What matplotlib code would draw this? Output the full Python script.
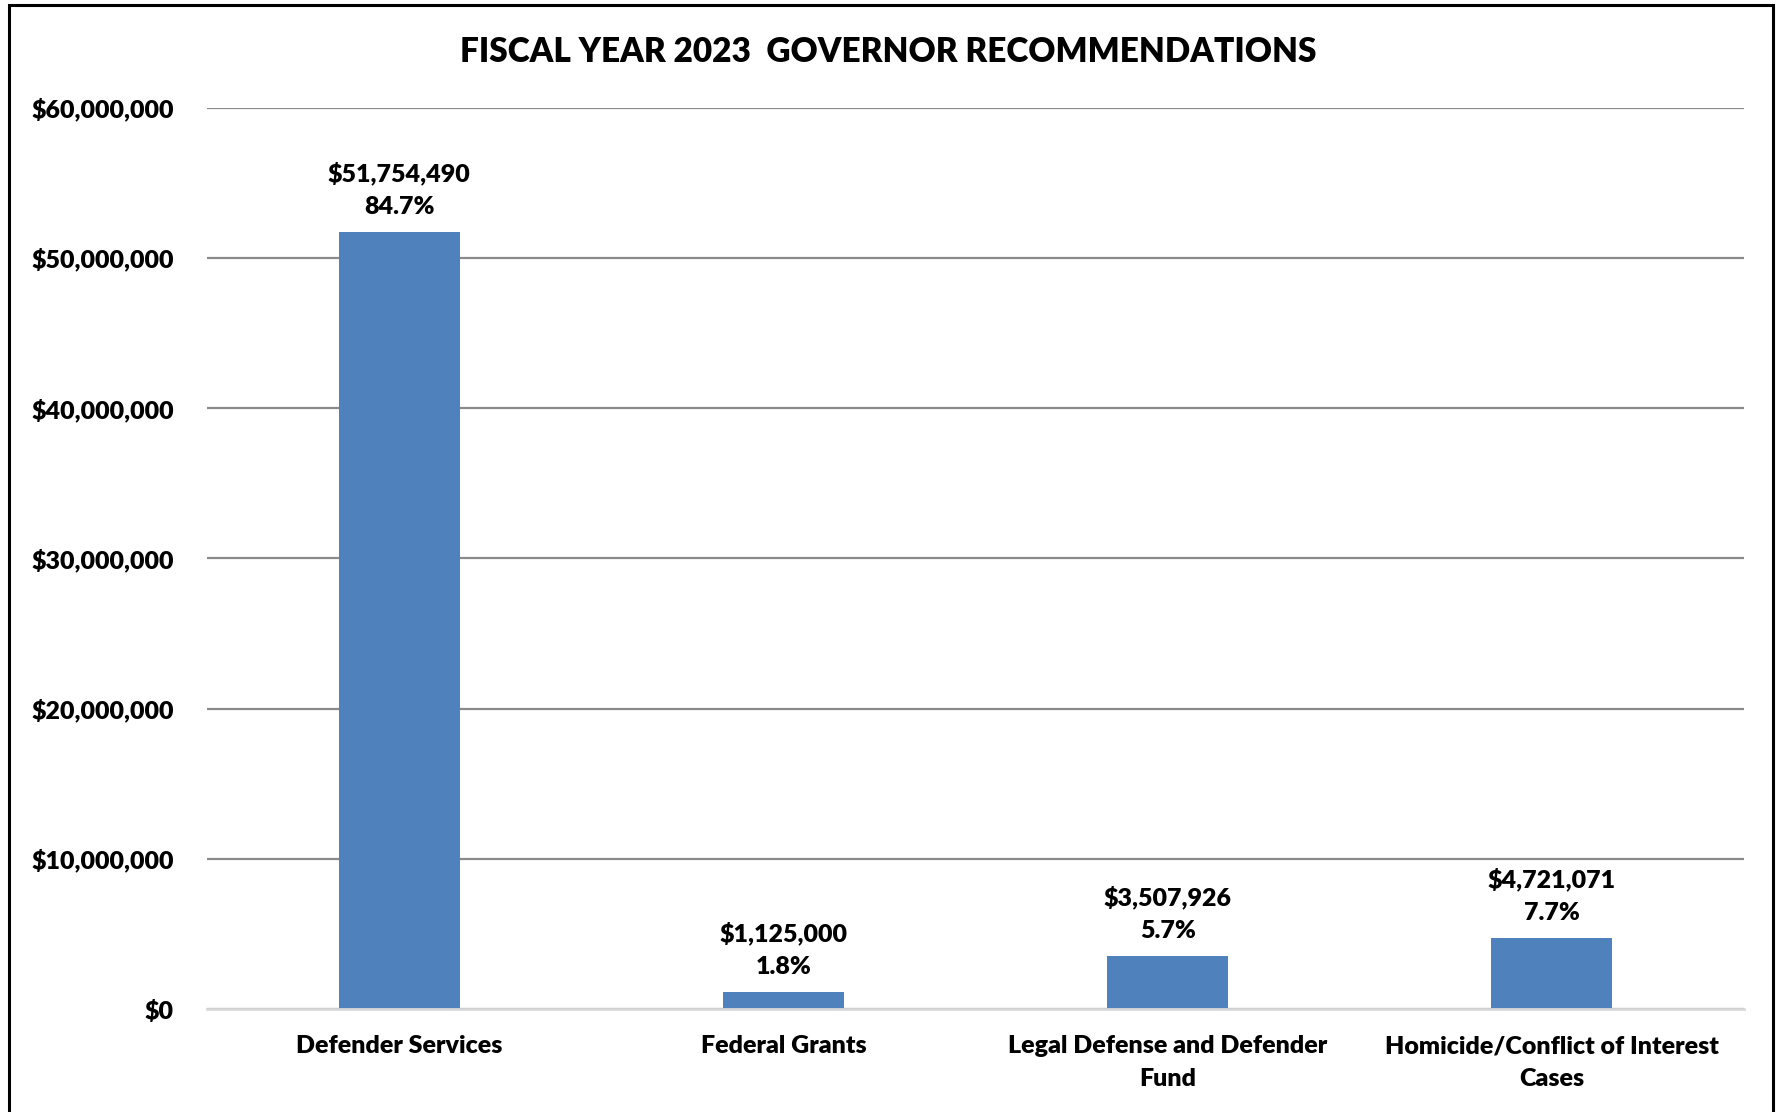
import matplotlib.pyplot as plt
from matplotlib.patches import Rectangle
from matplotlib.ticker import FuncFormatter

# ---------------- DATA ----------------
TITLE = "FISCAL YEAR 2023  GOVERNOR RECOMMENDATIONS"
categories = [
    "Defender Services",
    "Federal Grants",
    "Legal Defense and Defender\nFund",
    "Homicide/Conflict of Interest\nCases",
]
amounts = [51754490, 1125000, 3507926, 4721071]
shares = [84.7, 1.8, 5.7, 7.7]
y_ticks = [0, 10000000, 20000000, 30000000, 40000000, 50000000, 60000000]

# --------------- STYLE ----------------
plt.rcParams["font.family"] = ["Lato", "DejaVu Sans"]
WEIGHT = "heavy"
BAR_COLOR = "#4F81BD"
GRID_COLOR = "#8a8a8a"
FS = 18

fig = plt.figure(figsize=(17.76, 11.12), dpi=100)
ax = fig.add_axes([0.1166, 0.0926, 0.982 - 0.1166, 0.9032 - 0.0926])

x = range(len(categories))
ax.bar(x, amounts, width=0.315, color=BAR_COLOR, zorder=3)

ax.set_xlim(-0.5, len(categories) - 0.5)
ax.set_ylim(0, 60000000)
ax.set_yticks(y_ticks)
ax.yaxis.set_major_formatter(FuncFormatter(lambda v, p: f"${v:,.0f}"))
ax.set_xticks(list(x))
ax.set_xticklabels(categories, fontsize=FS, fontweight=WEIGHT, linespacing=1.6)
for lbl in ax.get_yticklabels():
    lbl.set_fontsize(FS)
    lbl.set_fontweight(WEIGHT)
ax.tick_params(axis="both", length=0)
ax.tick_params(axis="y", pad=24)
ax.tick_params(axis="x", pad=19)

ax.grid(axis="y", color=GRID_COLOR, linewidth=1.6, zorder=0)
for s in ["top", "right", "left"]:
    ax.spines[s].set_visible(False)
ax.spines["bottom"].set_color("#d9d9d9")
ax.spines["bottom"].set_linewidth(2)
ax.spines["bottom"].set_zorder(4)

for i, (amt, pct) in enumerate(zip(amounts, shares)):
    ax.annotate(f"${amt:,.0f}\n{pct:.1f}%", xy=(i, amt), xytext=(0, 10),
                textcoords="offset points", ha="center", va="bottom",
                fontsize=FS, fontweight=WEIGHT, linespacing=1.6)

fig.text(0.5, 0.953, TITLE, ha="center", va="center", fontsize=24, fontweight=WEIGHT)

# outer frame
fig.patches.append(Rectangle((9 / 1776, -0.05), (1773 - 9) / 1776, 1.05 - 5 / 1112,
                             transform=fig.transFigure, fill=False,
                             edgecolor="black", linewidth=2.2))

fig.savefig("out.png", dpi=100)
